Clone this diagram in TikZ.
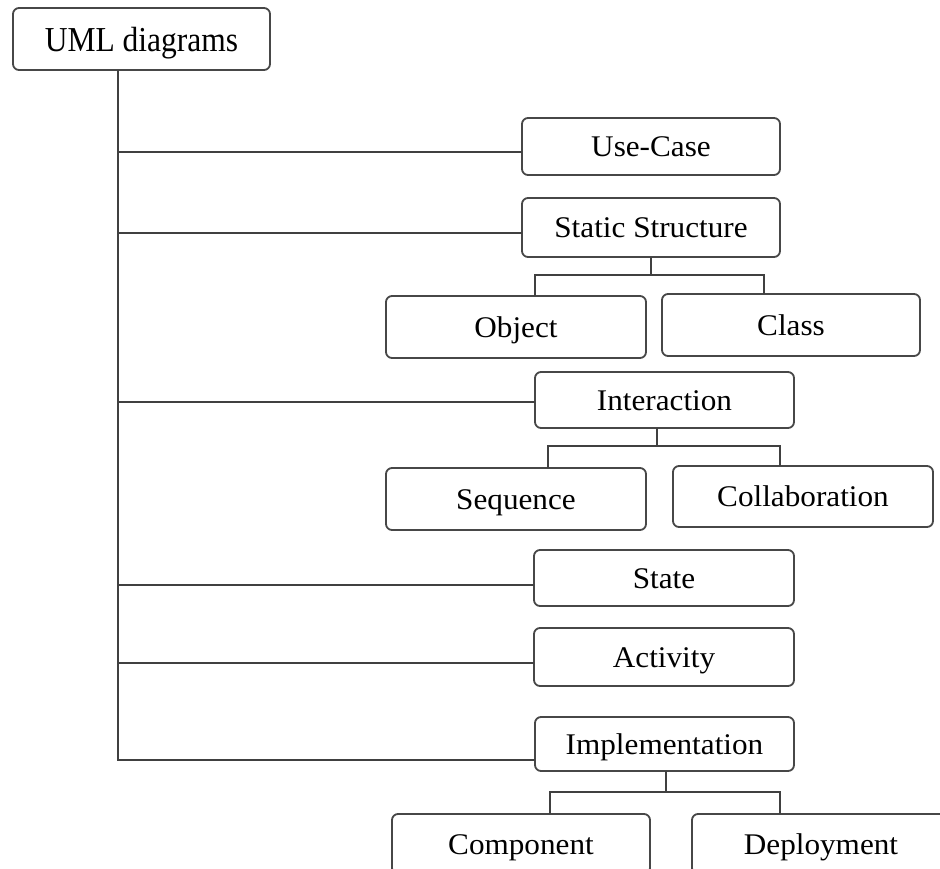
\documentclass[tikz,border=0pt]{standalone}
\usepackage{fontspec}
\setmainfont{Liberation Serif}
\newfontfamily\rootfont[FakeStretch=0.9]{Liberation Serif}
\newfontfamily\leaffont[FakeStretch=1.04]{Liberation Serif}
\begin{document}
\begin{tikzpicture}[x=1pt,y=-1pt,
  box/.style={draw=black!72, line width=1.8pt, rounded corners=6pt, fill=white,
    inner sep=0pt, outer sep=0pt, minimum width=258pt,
    font=\leaffont\fontsize{30}{34}\selectfont, text height=20pt, text depth=0pt},
  link/.style={draw=black!75, line width=1.8pt}]
\useasboundingbox (0,0) rectangle (940,868);
\clip (0,0) rectangle (940,868);
\fill[white] (0,0) rectangle (940,868);

\node[box, minimum width=257pt, minimum height=62pt,
  font=\rootfont\fontsize{35}{40}\selectfont, text height=24pt] (root) at (141.5,39) {UML diagrams};
\coordinate (trunk) at (118,0);

\node[box, minimum height=57pt] (uc) at (651,146.5) {Use-Case};
\node[box, minimum height=59pt] (ss) at (651,227.5) {Static Structure};
\node[box, minimum width=260pt, minimum height=62pt] (obj) at (516,327) {Object};
\node[box, minimum height=62pt] (cls) at (791,325) {Class};
\node[box, minimum width=259pt, minimum height=56pt] (inter) at (664.5,400) {Interaction};
\node[box, minimum width=260pt, minimum height=62pt] (seq) at (516,499) {Sequence};
\node[box, minimum width=260pt, minimum height=61pt] (col) at (803,496.5) {Collaboration};
\node[box, minimum width=260pt, minimum height=56pt] (state) at (664,578) {State};
\node[box, minimum width=260pt, minimum height=58pt] (act) at (664,657) {Activity};
\node[box, minimum width=259pt, minimum height=54pt] (impl) at (664.5,744) {Implementation};
\node[box, minimum height=60pt] (comp) at (521,844) {Component};
\node[box, minimum height=60pt] (dep) at (821,844) {Deployment};

% trunk
\draw[link] (root.south -| trunk) -- ([yshift=-16pt]impl.west -| trunk) -- ([yshift=-16pt]impl.west);
\draw[link] ([yshift=-5.5pt]uc.west -| trunk) -- ([yshift=-5.5pt]uc.west);
\draw[link] ([yshift=-5.5pt]ss.west -| trunk) -- ([yshift=-5.5pt]ss.west);
\draw[link] ([yshift=-2pt]inter.west -| trunk) -- ([yshift=-2pt]inter.west);
\draw[link] ([yshift=-7pt]state.west -| trunk) -- ([yshift=-7pt]state.west);
\draw[link] ([yshift=-6pt]act.west -| trunk) -- ([yshift=-6pt]act.west);

% static structure children
\draw[link] (ss.south) -- ([yshift=-18pt]ss.south);
\draw[link] ([xshift=19pt]obj.north) |- ([yshift=-18pt]ss.south) -| ([xshift=-27pt]cls.north);
% interaction children
\draw[link] ([xshift=-7.5pt]inter.south) -- ([xshift=-7.5pt,yshift=-18pt]inter.south);
\draw[link] ([xshift=32pt]seq.north) |- ([xshift=-7.5pt,yshift=-18pt]inter.south) -| ([xshift=-23pt]col.north);
% implementation children
\draw[link] ([xshift=1.5pt]impl.south) -- ([xshift=1.5pt,yshift=-21pt]impl.south);
\draw[link] ([xshift=29pt]comp.north) |- ([xshift=1.5pt,yshift=-21pt]impl.south) -| ([xshift=-41pt]dep.north);
\end{tikzpicture}
\end{document}
